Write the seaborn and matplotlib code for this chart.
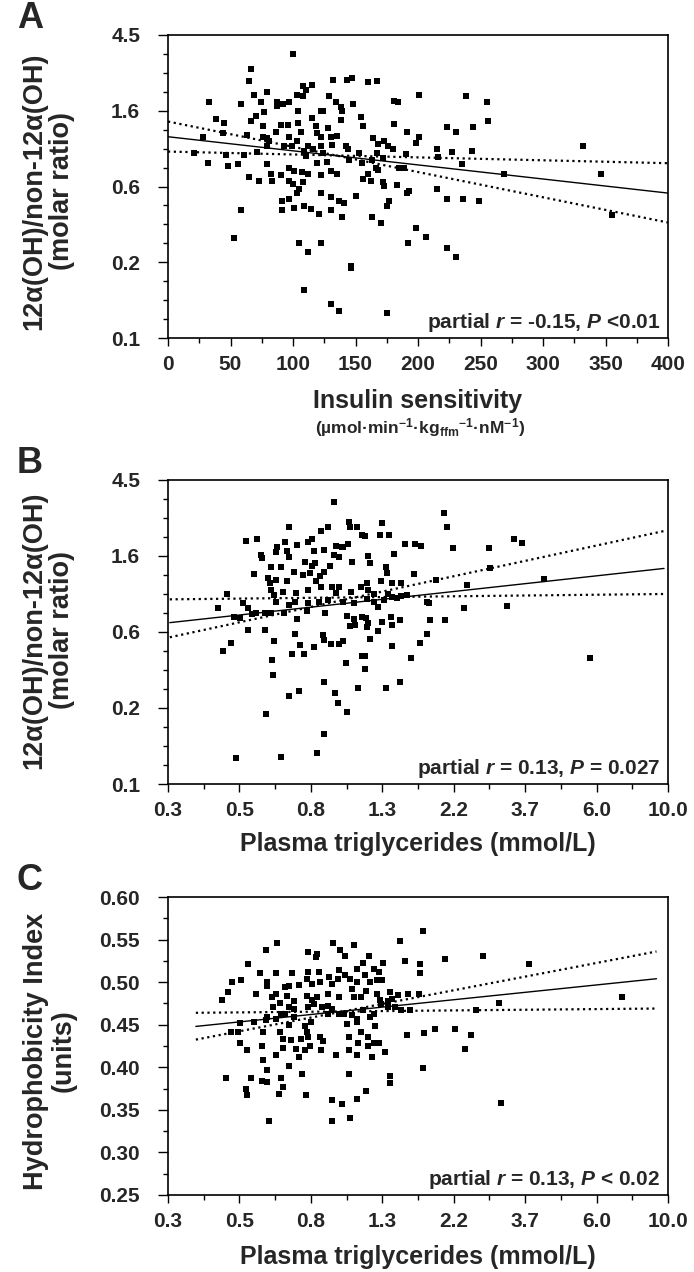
import numpy as np
import pandas as pd
import matplotlib
matplotlib.use("Agg")
import matplotlib.pyplot as plt
import matplotlib.font_manager as fm
from matplotlib.ticker import FixedLocator, NullFormatter, FixedFormatter
import seaborn as sns

# ---------------- data ----------------
# Panel A: insulin sensitivity vs 12a(OH)/non-12a(OH) ratio
a_x = [100, 66, 65, 69, 79, 33, 58, 74, 87, 87, 92, 97, 103, 108, 115, 108, 110, 132, 143, 147,
       160, 167, 129, 134, 138, 148, 139, 181, 184, 201, 238, 255,
       104, 115, 77, 70, 66, 38, 45, 28, 44, 63, 76, 76, 79, 86, 90, 96, 97, 104, 106, 118,
       122, 124, 119, 122, 128, 130, 135, 154, 156, 138, 181, 191, 201, 198, 223, 230, 244, 256, 332,
       21, 46, 61, 71, 79, 81, 93, 99, 103, 109, 110, 112, 116, 122, 124, 131, 142, 144, 153, 164,
       168, 167, 173, 176, 180, 190, 215, 227, 216, 243,
       32, 48, 56, 65, 73, 79, 82, 83, 90, 97, 101, 107, 112, 119, 122, 127, 130, 135, 145, 155,
       160, 163, 166, 168, 172, 185, 189, 235, 269, 346,
       97, 100, 103, 105, 108, 122, 130, 150, 156, 162, 172, 173, 183, 191, 193, 215, 223, 236, 249,
       91, 91, 97, 101, 109, 114, 121, 130, 137, 141, 139, 163, 170, 177, 175, 58, 355,
       53, 105, 112, 122, 146, 146, 192, 198, 206, 223, 230, 109, 130, 137, 175]
a_y = [3.49, 2.85, 2.44, 2.03, 2.12, 1.84, 1.80, 1.84, 1.86, 1.76, 1.80, 1.84, 2.03, 2.01, 2.32, 2.29, 2.17, 2.48, 2.48, 2.53,
       2.42, 2.44, 1.99, 1.86, 1.74, 1.80, 1.65, 1.88, 1.84, 2.03, 2.00, 1.86,
       1.65, 1.49, 1.63, 1.53, 1.44, 1.48, 1.41, 1.17, 1.23, 1.20, 1.34, 1.17, 1.15, 1.25, 1.37, 1.37, 1.17, 1.40, 1.25, 1.34,
       1.65, 1.65, 1.23, 1.17, 1.31, 1.17, 1.18, 1.51, 1.35, 1.46, 1.39, 1.25, 1.17, 1.08, 1.33, 1.25, 1.33, 1.44, 1.04,
       0.94, 0.92, 0.925, 0.96, 1.03, 1.10, 1.03, 1.03, 1.10, 0.975, 0.91, 1.03, 0.99, 1.03, 0.94, 1.05, 1.03, 1.00, 0.94, 1.15,
       1.06, 0.94, 1.10, 1.03, 1.00, 0.93, 0.99, 0.96, 0.90, 0.975,
       0.825, 0.79, 0.82, 0.69, 0.65, 0.82, 0.72, 0.65, 0.71, 0.77, 0.74, 0.73, 0.714, 0.825, 0.71, 0.84, 0.74, 0.72, 0.86, 0.825,
       0.72, 0.86, 0.77, 0.756, 0.88, 0.77, 0.77, 0.82, 0.714, 0.714,
       0.65, 0.626, 0.56, 0.59, 0.64, 0.56, 0.53, 0.536, 0.67, 0.65, 0.64, 0.61, 0.62, 0.556, 0.575, 0.59, 0.515, 0.515, 0.504,
       0.504, 0.446, 0.513, 0.454, 0.47, 0.45, 0.423, 0.442, 0.50, 0.487, 0.403, 0.403, 0.374, 0.50, 0.466, 0.442, 0.416,
       0.307, 0.289, 0.254, 0.289, 0.211, 0.206, 0.289, 0.35, 0.312, 0.271, 0.24, 0.154, 0.128, 0.117, 0.114]
a_fit_x = [0, 400]
a_fit_y = [1.17, 0.556]
a_ci1_y = [1.43, 0.377]
a_ci2_y = [0.962, 0.825]

# Panel B: plasma triglycerides vs 12a(OH)/non-12a(OH) ratio
b_x = [0.965, 2.075, 2.121, 0.520, 0.561, 0.705, 0.878, 0.923, 1.07, 1.076,
       1.128, 1.348, 1.171, 1.20, 1.327, 1.412, 0.684, 0.744, 0.80, 0.824,
       0.979, 1.026, 1.059, 1.581, 1.694, 1.775, 2.208, 2.855, 3.39, 3.586,
       0.578, 0.581, 0.642, 0.646, 0.692, 0.705, 0.838, 0.898, 0.965, 0.995,
       1.017, 1.093, 1.223, 1.467, 1.239, 1.385, 0.62, 0.662, 0.784, 0.824,
       0.843, 0.934, 0.549, 0.605, 0.613, 0.642, 0.694, 0.728, 0.775, 0.815,
       0.85, 0.873, 0.90, 1.395, 1.682, 1.968, 2.863, 4.195, 2.45, 1.339,
       1.448, 1.542, 0.455, 0.618, 0.673, 0.739, 0.804, 0.878, 0.949, 0.995,
       0.979, 1.083, 1.163, 1.212, 1.219, 1.278, 1.404, 1.542, 1.60, 0.427,
       0.508, 0.527, 0.559, 0.594, 0.642, 0.632, 0.701, 0.732, 0.80, 0.864,
       0.92, 1.026, 1.11, 1.212, 1.278, 1.31, 1.369, 1.448, 1.493, 1.848,
       1.872, 2.389, 3.235, 0.477, 0.50, 0.541, 0.62, 0.677, 0.742, 0.795,
       0.906, 1.053, 1.11, 1.171, 1.208, 1.223, 1.348, 1.439, 1.448, 1.527,
       1.889, 2.088, 1.076, 1.117, 1.212, 0.527, 0.594, 0.734, 0.634, 0.758,
       0.838, 0.889, 0.895, 0.94, 0.995, 1.026, 1.235, 1.31, 1.842, 1.758,
       0.444, 0.467, 0.716, 0.78, 1.171, 1.20, 1.443, 1.652, 5.79, 0.623,
       1.05, 1.20, 0.63, 0.90, 1.527, 1.138, 1.385, 0.756, 0.705, 0.968,
       0.992, 1.056, 0.599, 0.90, 0.856, 0.484, 0.666]
b_y = [3.34, 2.92, 2.43, 2.02, 2.07, 2.43, 2.29, 2.43, 2.57, 2.40,
       2.43, 2.53, 2.17, 2.15, 2.16, 2.16, 1.97, 1.91, 1.97, 2.06,
       1.88, 1.86, 1.93, 1.92, 1.93, 1.88, 1.84, 1.84, 2.07, 1.95,
       1.67, 1.60, 1.73, 1.86, 1.75, 1.63, 1.75, 1.78, 1.67, 1.63,
       1.86, 1.53, 1.65, 1.69, 1.50, 1.43, 1.43, 1.43, 1.53, 1.45,
       1.50, 1.45, 1.30, 1.23, 1.16, 1.20, 1.19, 1.34, 1.28, 1.32,
       1.18, 1.26, 1.34, 1.31, 1.30, 1.20, 1.40, 1.22, 1.13, 1.18,
       1.16, 1.15, 1.00, 1.05, 1.02, 1.01, 1.05, 1.10, 1.10, 1.10,
       1.01, 1.03, 1.10, 1.15, 1.05, 1.00, 1.00, 0.974, 0.99, 0.835,
       0.892, 0.835, 0.776, 0.782, 0.904, 0.99, 0.865, 0.90, 0.884, 0.904,
       0.924, 0.904, 0.884, 0.932, 0.904, 0.839, 0.924, 0.957, 0.945, 0.904,
       0.884, 0.835, 0.854, 0.742, 0.726, 0.769, 0.782, 0.776, 0.72, 0.803,
       0.776, 0.749, 0.717, 0.742, 0.726, 0.68, 0.695, 0.742, 0.665, 0.71,
       0.71, 0.71, 0.656, 0.665, 0.65, 0.623, 0.623, 0.591, 0.541, 0.509,
       0.50, 0.583, 0.546, 0.518, 0.518, 0.541, 0.553, 0.618, 0.588, 0.527,
       0.474, 0.527, 0.452, 0.452, 0.444, 0.444, 0.505, 0.429, 0.429, 0.42,
       0.402, 0.371, 0.343, 0.315, 0.315, 0.289, 0.292, 0.279, 0.262, 0.273,
       0.237, 0.211, 0.206, 0.158, 0.124, 0.115, 0.117]
b_fit_x = [0.305, 9.7]
b_fit_y = [0.686, 1.40]
b_ci1_y = [0.932, 1.00]
b_ci2_y = [0.566, 2.29]

# Panel C: plasma triglycerides vs hydrophobicity index
c_x = [1.791, 1.533, 2.732, 2.094, 1.581, 1.758, 1.758, 3.77, 0.646, 0.599,
       0.958, 1.11, 1.001, 1.231, 1.043, 0.80, 0.856, 0.85, 0.529, 0.503,
       0.472, 0.458, 0.441, 0.556, 0.575, 0.603, 0.642, 0.716, 0.80, 0.864,
       0.995, 1.128, 1.182, 1.278, 1.361, 1.318, 0.603, 0.642, 0.623, 0.684,
       0.705, 0.756, 0.795, 0.824, 0.873, 0.929, 0.949, 0.989, 1.043, 1.076,
       1.128, 1.20, 1.239, 1.298, 1.351, 1.426, 1.448, 1.616, 1.747, 1.508,
       0.658, 0.694, 0.728, 0.795, 0.824, 0.856, 0.92, 0.995, 1.093, 1.11,
       1.163, 1.208, 1.298, 1.327, 1.404, 2.599, 3.049, 7.25, 0.50, 0.492,
       0.467, 0.549, 0.599, 0.585, 0.626, 0.662, 0.705, 0.728, 0.80, 0.838,
       0.883, 0.92, 0.949, 0.995, 1.033, 1.093, 1.134, 1.182, 1.239, 1.278,
       1.339, 1.404, 1.471, 1.542, 1.641, 0.92, 0.787, 0.728, 0.684, 0.642,
       0.603, 0.705, 0.82, 1.053, 1.128, 1.285, 0.658, 0.673, 0.71, 0.765,
       0.795, 0.80, 0.873, 0.889, 1.066, 1.163, 1.138, 1.223, 1.278, 1.318,
       1.60, 1.802, 1.948, 2.243, 2.504, 2.411, 0.50, 0.524, 0.581, 0.642,
       0.675, 0.737, 0.787, 0.812, 0.878, 0.979, 1.066, 1.128, 1.219, 1.257,
       1.373, 0.756, 0.585, 0.603, 0.705, 0.451, 0.539, 0.581, 0.603, 0.666,
       0.77, 1.073, 1.426, 1.426, 1.791, 0.520, 0.524, 0.675, 0.656, 0.792,
       0.949, 1.02, 1.128, 1.208, 0.609, 0.949, 1.076, 3.105]
c_y = [0.560, 0.548, 0.531, 0.527, 0.525, 0.521, 0.511, 0.521, 0.546, 0.538,
       0.546, 0.544, 0.538, 0.531, 0.531, 0.535, 0.533, 0.529, 0.521, 0.502,
       0.500, 0.489, 0.479, 0.486, 0.511, 0.500, 0.511, 0.511, 0.512, 0.512,
       0.514, 0.516, 0.523, 0.516, 0.522, 0.512, 0.495, 0.486, 0.482, 0.494,
       0.496, 0.497, 0.504, 0.498, 0.500, 0.506, 0.498, 0.504, 0.508, 0.504,
       0.500, 0.508, 0.500, 0.502, 0.502, 0.488, 0.480, 0.486, 0.486, 0.485,
       0.475, 0.484, 0.478, 0.484, 0.479, 0.482, 0.486, 0.482, 0.492, 0.482,
       0.482, 0.490, 0.486, 0.479, 0.478, 0.467, 0.476, 0.482, 0.452, 0.441,
       0.441, 0.453, 0.455, 0.441, 0.471, 0.463, 0.471, 0.469, 0.471, 0.474,
       0.471, 0.472, 0.469, 0.463, 0.463, 0.461, 0.457, 0.467, 0.459, 0.463,
       0.474, 0.471, 0.471, 0.467, 0.467, 0.463, 0.449, 0.459, 0.463, 0.457,
       0.459, 0.450, 0.453, 0.451, 0.453, 0.449, 0.441, 0.433, 0.432, 0.433,
       0.441, 0.435, 0.435, 0.431, 0.435, 0.441, 0.429, 0.435, 0.429, 0.429,
       0.438, 0.440, 0.445, 0.445, 0.438, 0.422, 0.429, 0.420, 0.425, 0.414,
       0.423, 0.421, 0.420, 0.425, 0.420, 0.414, 0.420, 0.414, 0.425, 0.412,
       0.418, 0.412, 0.408, 0.397, 0.401, 0.387, 0.387, 0.384, 0.383, 0.387,
       0.392, 0.392, 0.390, 0.382, 0.399, 0.374, 0.367, 0.377, 0.369, 0.367,
       0.362, 0.357, 0.363, 0.372, 0.337, 0.337, 0.340, 0.358]
c_fit_x = [0.366, 9.2]
c_fit_y = [0.448, 0.504]
c_ci1_y = [0.464, 0.469]
c_ci2_y = [0.4325, 0.536]

# axis ticks (log-e spaced axes)
ratio_tick_ln = [-2.5, -1.5, -0.5, 0.5, 1.5]
ratio_tick_labels = ["0.1", "0.2", "0.6", "1.6", "4.5"]
tg_tick_ln = [-1.2, -0.7, -0.2, 0.3, 0.8, 1.3, 1.8, 2.3]
tg_tick_labels = ["0.3", "0.5", "0.8", "1.3", "2.2", "3.7", "6.0", "10.0"]
ins_ticks = [0, 50, 100, 150, 200, 250, 300, 350, 400]
hi_ticks = [0.25, 0.30, 0.35, 0.40, 0.45, 0.50, 0.55, 0.60]
hi_tick_labels = ["0.25", "0.30", "0.35", "0.40", "0.45", "0.50", "0.55", "0.60"]

annot_a = r"partial $r$ = -0.15, $P$ <0.01"
annot_b = r"partial $r$ = 0.13, $P$ = 0.027"
annot_c = r"partial $r$ = 0.13, $P$ < 0.02"

assert len(a_x) == len(a_y) and len(b_x) == len(b_y) and len(c_x) == len(c_y)

# ---------------- style ----------------
sns.set_theme(style="ticks")
names = {f.name for f in fm.fontManager.ttflist}
NARROW = "Liberation Sans Narrow" if "Liberation Sans Narrow" in names else "Liberation Sans"
WIDE = "Liberation Sans"
plt.rcParams["font.family"] = [NARROW, "DejaVu Sans"]
plt.rcParams["font.weight"] = "bold"
plt.rcParams["mathtext.fontset"] = "custom"
plt.rcParams["mathtext.rm"] = f"{NARROW}:bold"
plt.rcParams["mathtext.bf"] = f"{NARROW}:bold"
plt.rcParams["mathtext.it"] = f"{NARROW}:bold:italic"
plt.rcParams["axes.linewidth"] = 1.2

W, H = 694, 1272
fig = plt.figure(figsize=(W / 100, H / 100), dpi=100)
fig.patch.set_facecolor("white")


def px_axes(left, top, right, bottom):
    return fig.add_axes([left / W, 1 - bottom / H, (right - left) / W, (bottom - top) / H])


axA = px_axes(168, 35, 668, 338)
axB = px_axes(168, 480, 668, 784)
axC = px_axes(168, 897, 668, 1195)

TICK_FS = 15
LINE_DOT = (0, (1.0, 1.6))
MS = 21


def draw(ax, x, y, fx, fy, c1, c2, marker="s"):
    df = pd.DataFrame({"x": x, "y": y})
    fit = pd.DataFrame({"x": fx, "fit": fy, "c1": c1, "c2": c2})
    sns.lineplot(data=fit, x="x", y="fit", ax=ax, color="black", lw=1.0, sort=False, estimator=None)
    sns.lineplot(data=fit, x="x", y="c1", ax=ax, color="black", lw=1.6, linestyle=LINE_DOT, sort=False, estimator=None)
    sns.lineplot(data=fit, x="x", y="c2", ax=ax, color="black", lw=1.6, linestyle=LINE_DOT, sort=False, estimator=None)
    sns.scatterplot(data=df, x="x", y="y", ax=ax, marker=marker, color="black", s=MS, linewidth=0, zorder=3)
    ax.set_xlabel("")
    ax.set_ylabel("")
    for s in ax.spines.values():
        s.set_visible(True)
        s.set_color("black")
        s.set_linewidth(1.2)
    ax.tick_params(which="both", direction="out", color="black", width=1.0)
    ax.tick_params(axis="y", which="major", length=7, pad=13, labelsize=TICK_FS)
    ax.tick_params(axis="y", which="minor", length=3.5)
    ax.tick_params(axis="x", which="major", length=5.5, pad=6.5, labelsize=TICK_FS)
    ax.tick_params(axis="x", which="minor", length=3.5)
    ax.tick_params(axis="y", which="both", right=False)
    ax.tick_params(axis="x", which="both", top=False)


def ratio_axis(ax):
    ax.set_yscale("log")
    ax.set_ylim(np.exp(-2.5), np.exp(1.5))
    ax.yaxis.set_major_locator(FixedLocator(np.exp(ratio_tick_ln)))
    ax.yaxis.set_major_formatter(FixedFormatter(ratio_tick_labels))
    ax.yaxis.set_minor_locator(FixedLocator(np.exp(np.arange(-2.5, 1.51, 0.25))))
    ax.yaxis.set_minor_formatter(NullFormatter())


def tg_axis(ax):
    ax.set_xscale("log")
    ax.set_xlim(np.exp(-1.2), np.exp(2.3))
    ax.xaxis.set_major_locator(FixedLocator(np.exp(tg_tick_ln)))
    ax.xaxis.set_major_formatter(FixedFormatter(tg_tick_labels))
    ax.xaxis.set_minor_locator(FixedLocator(np.exp(np.arange(-1.2, 2.31, 0.25))))
    ax.xaxis.set_minor_formatter(NullFormatter())


# Panel A
draw(axA, a_x, a_y, a_fit_x, a_fit_y, a_ci1_y, a_ci2_y)
ratio_axis(axA)
axA.set_xlim(0, 400)
axA.xaxis.set_major_locator(FixedLocator(ins_ticks))
axA.xaxis.set_major_formatter(FixedFormatter([str(t) for t in ins_ticks]))
axA.xaxis.set_minor_locator(FixedLocator(np.arange(0, 401, 25)))

# Panel B
draw(axB, b_x, b_y, b_fit_x, b_fit_y, b_ci1_y, b_ci2_y)
ratio_axis(axB)
tg_axis(axB)

# Panel C
draw(axC, c_x, c_y, c_fit_x, c_fit_y, c_ci1_y, c_ci2_y)
tg_axis(axC)
axC.set_ylim(0.25, 0.60)
axC.yaxis.set_major_locator(FixedLocator(hi_ticks))
axC.yaxis.set_major_formatter(FixedFormatter(hi_tick_labels))
axC.yaxis.set_minor_locator(FixedLocator(np.arange(0.25, 0.601, 0.025)))
axC.yaxis.set_minor_formatter(NullFormatter())

for ax in (axA, axB, axC):
    for lab in ax.get_xticklabels() + ax.get_yticklabels():
        lab.set_fontweight("bold")
        lab.set_fontsize(TICK_FS)


def ftext(x, y, s, **kw):
    fig.text(x / W, 1 - y / H, s, **kw)


# panel letters
for letter, yy in (("A", 19), ("B", 464), ("C", 881)):
    ftext(30, yy, letter, fontsize=26, fontweight="bold", ha="center", va="center", family=[NARROW])

# y labels
ylab_kw = dict(rotation=90, ha="center", va="center", fontsize=19.5, fontweight="bold",
               family=[WIDE, "DejaVu Sans"], multialignment="center", linespacing=1.1)
ftext(48, 191, "12\u03b1(OH)/non-12\u03b1(OH)\n(molar ratio)", **ylab_kw)
ftext(48, 630, "12\u03b1(OH)/non-12\u03b1(OH)\n(molar ratio)", **ylab_kw)
ftext(50, 1051, "Hydrophobicity Index\n(units)", **ylab_kw)

# x labels
xlab_kw = dict(ha="center", va="center", fontsize=18, fontweight="bold")
ftext(418, 401, "Insulin sensitivity", **xlab_kw)
ftext(420, 428, r"(µmol·min$^{\mathrm{-1}}$·kg$_{\mathrm{ffm}}$$^{\mathrm{-1}}$·nM$^{\mathrm{-1}}$)",
      ha="center", va="center", fontsize=12.5, fontweight="bold")
ftext(418, 844, "Plasma triglycerides (mmol/L)", **xlab_kw)
ftext(418, 1257, "Plasma triglycerides (mmol/L)", **xlab_kw)

# annotations
for ax, s in ((axA, annot_a), (axB, annot_b), (axC, annot_c)):
    ax.text(0.985, 0.012, s, transform=ax.transAxes, ha="right", va="bottom",
            fontsize=15, fontweight="bold")

fig.savefig("out.png", dpi=100, facecolor="white")
